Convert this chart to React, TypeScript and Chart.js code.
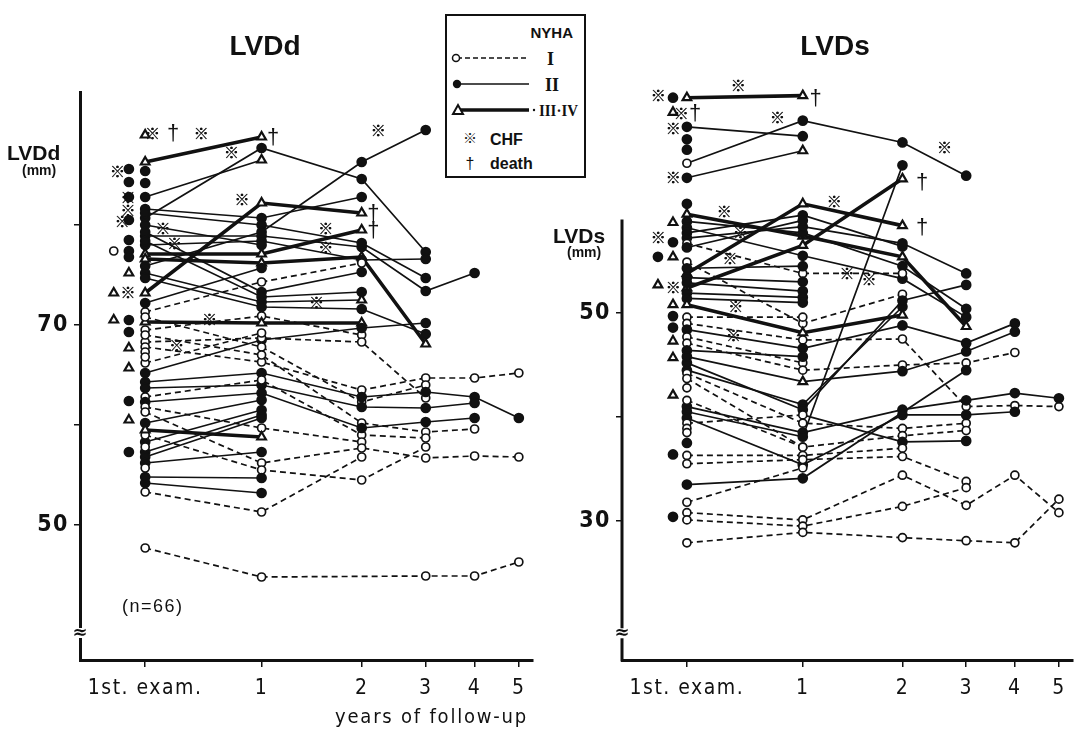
import React, { useEffect, useRef } from 'react';
import { Chart, registerables } from 'chart.js';

Chart.register(...registerables);

const INK = '#111111';
const SANS = '"Liberation Sans", Arial, sans-serif';
const NARROW = '"Liberation Sans Narrow", "DejaVu Sans Condensed", "Liberation Sans", sans-serif';

// x axis: examination time points (1st exam, 1..5 years of follow-up)
const xTickLabels = ['1st. exam.', '1', '2', '3', '4', '5'];
const xTickPositions = [0, 1, 1.86, 2.41, 2.83, 3.21];

// ---------- LVDd (mm) : one row per patient, columns = time points ----------
const lvddValues: (number | null)[][] = [
  [86.3, 88.8],
  [80.7, 87.7, 84.6, 77.3],
  [82.8, 86.5],
  [81.6, 80.7, 82.8],
  [73.2, 82.2, 81.2],
  [77.1, 77.1, 79.5],
  [76.6, 76.2, 76.8, 68.1],
  [78.9, 78.9, 77.8, 73.4, 75.2],
  [78.0, 78.4, 76.5, 76.6],
  [81.2, 80.0, 78.2, 74.7],
  [75.9, 79.3, 86.3, 89.5],
  [80.0, 78.0],
  [79.3, 73.3, 75.3],
  [78.4, 72.8, 73.3],
  [75.2, 72.3, 72.5],
  [74.7, 71.8, 71.6, 69.1],
  [71.3, 74.3, 76.2],
  [72.2, 75.7],
  [69.5, 70.9, 69.0],
  [70.3, 70.2, 70.2],
  [65.2, 68.5, 69.7, 70.2],
  [68.3, 68.7, 68.3, 62.7],
  [67.8, 66.3, 63.5, 64.7, 64.7, 65.2],
  [70.8, 67.8, 62.3, 64.0],
  [64.3, 65.2, 62.8, 63.3, 62.8, 60.7],
  [63.7, 64.0, 61.8, 61.7, 62.2],
  [69.0, 67.0, 60.2, 59.3, 59.6],
  [62.8, 64.5, 59.0, 58.7],
  [62.3, 63.2, 59.7, 60.3, 60.7],
  [61.8, 59.7, 58.3],
  [61.3, 56.2, 57.7, 56.7, 56.9, 56.8],
  [60.2, 62.5],
  [58.3, 61.5],
  [57.3, 61.0],
  [56.8, 60.7],
  [59.0, 55.5, 54.5, 57.8],
  [53.3, 51.3, 56.8],
  [56.2, 57.3],
  [54.2, 53.2],
  [54.8, 54.7],
  [47.7, 44.8, null, 44.9, 44.9, 46.3],
  [66.2, 69.2],
  [59.5, 58.8],
];
// NYHA class at each time point (1 = I, 2 = II, 3 = III/IV)
const lvddNyha: string[] = [
  '33', '2222', '23', '222', '333', '333', '3333', '22222', '2222', '2222',
  '2222', '22', '222', '222', '223', '2222', '111', '22', '111', '333',
  '2222', '1111', '111111', '1111', '222222', '22222', '11111', '1111', '22222', '111',
  '111111', '22', '22', '22', '22', '1111', '111', '22', '22', '22',
  '111111', '11', '33',
];
// patients with a single examination: [x, mm, NYHA]
const lvddSingle: [number, number, number][] = [
  [0, 89.0, 3], [0, 85.4, 2], [0, 84.2, 2], [0, 67.3, 1], [0, 66.8, 1], [0, 57.8, 1], [0, 55.7, 1],
  [-0.14, 85.6, 2], [-0.14, 84.3, 2], [-0.14, 82.8, 2], [-0.14, 80.5, 2], [-0.14, 78.5, 2],
  [-0.14, 77.4, 2], [-0.14, 76.8, 2], [-0.14, 75.2, 3], [-0.14, 70.5, 2], [-0.14, 69.3, 2],
  [-0.14, 67.7, 3], [-0.14, 65.7, 3], [-0.14, 62.4, 2], [-0.14, 60.5, 3], [-0.14, 57.3, 2],
  [-0.27, 77.4, 1], [-0.27, 73.2, 3], [-0.27, 70.5, 3],
];
const lvddChf: [number, number][] = [
  [-0.24, 85.4], [-0.15, 82.8], [-0.15, 81.5], [-0.2, 80.4], [0.06, 89.2], [0.48, 89.2],
  [0.74, 87.3], [0.83, 82.6], [0.15, 79.7], [0.25, 78.2], [2.0, 89.5], [1.55, 79.7],
  [1.55, 77.8], [1.47, 72.3], [0.55, 70.6], [0.27, 68.0], [-0.15, 73.3],
];
const lvddDeath: [number, number][] = [[0.24, 89.2], [1.1, 88.8], [1.96, 81.2], [1.96, 79.5]];

// ---------- LVDs (mm) ----------
const lvdsValues: (number | null)[][] = [
  [70.7, 70.9],
  [67.9, 67.0],
  [64.4, 68.5, 66.4, 63.2],
  [63.0, 65.6],
  [53.8, 60.5, 58.4],
  [59.5, 57.4, 55.4, 48.7],
  [58.8, 57.7, 54.5, 50.4],
  [58.2, 55.5, 53.3, 49.6],
  [57.7, 59.4, 56.4],
  [57.2, 58.3, 56.7, 53.8],
  [56.7, 53.8, 53.8],
  [56.3, 58.9],
  [54.9, 49.0, 51.8],
  [54.3, 54.5],
  [52.4, 56.5, 62.9],
  [53.4, 53.0],
  [52.9, 52.1],
  [51.9, 51.5],
  [51.4, 51.0],
  [50.8, 48.1, 49.8],
  [49.6, 49.6],
  [49.0, 47.4, 47.5, 41.0, 41.1, 41.0],
  [48.4, 46.6, 48.8, 47.1, 49.0],
  [47.7, 45.2],
  [47.1, 44.5, 45.0, 45.2, 46.2],
  [46.4, 45.8],
  [44.5, 41.2, 50.6],
  [45.2, 40.7, 51.2, 52.7],
  [41.0, 38.5, 40.7, 41.6, 42.3, 41.8],
  [40.5, 38.1, 64.2],
  [44.2, 39.4, 38.9, 39.4],
  [43.7, 37.1, 38.2, 38.7],
  [39.9, 35.4, 40.2, 40.2, 40.5],
  [33.5, 34.1, null, 44.5],
  [45.8, 43.4, 44.4, 46.3, 48.2],
  [39.4, 40.2, 37.6, 37.7],
  [36.3, 36.3, 37.0],
  [35.5, 35.9, 36.2, 33.8],
  [30.8, 30.1, 34.4, 31.5, 34.4, 30.8],
  [30.1, 29.5, 31.4, 33.2],
  [27.9, 28.9, 28.4, 28.1, 27.9, 32.1],
  [31.8, 35.1],
  [41.6, 37.1],
];
const lvdsNyha: string[] = [
  '33', '22', '1222', '23', '333', '3333', '2222', '2222', '222', '2222',
  '111', '22', '111', '22', '333', '22', '22', '22', '22', '333',
  '11', '111111', '22222', '11', '11111', '22', '222', '2222', '222222', '222',
  '1111', '1111', '22222', '2222', '23222', '1122', '111', '1111', '111111', '1111',
  '111111', '11', '11',
];
const lvdsSingle: [number, number, number][] = [
  [0, 66.7, 2], [0, 65.7, 2], [0, 60.5, 2], [0, 42.8, 1], [0, 38.9, 1], [0, 38.5, 1], [0, 37.5, 2],
  [-0.12, 70.7, 2], [-0.12, 69.3, 3], [-0.12, 58.7, 3], [-0.12, 56.8, 2], [-0.12, 55.4, 3],
  [-0.12, 50.8, 3], [-0.12, 49.7, 2], [-0.12, 48.6, 2], [-0.12, 47.3, 3], [-0.12, 45.7, 3],
  [-0.12, 42.1, 3], [-0.12, 36.4, 2], [-0.12, 30.4, 2],
  [-0.25, 55.4, 2], [-0.25, 52.7, 3],
];
const lvdsChf: [number, number][] = [
  [-0.25, 70.9], [-0.05, 69.2], [-0.12, 67.8], [-0.12, 63.0], [-0.25, 57.3], [-0.12, 52.5],
  [0.44, 71.9], [0.78, 68.8], [2.22, 65.9], [0.32, 59.8], [0.46, 57.8], [0.37, 55.3],
  [0.42, 50.6], [0.4, 47.9], [1.27, 60.7], [1.38, 53.8], [1.57, 53.2],
];
const lvdsDeath: [number, number][] = [[0.07, 69.2], [1.11, 70.7], [2.03, 62.6], [2.03, 58.3]];

type PanelCfg = {
  values: (number | null)[][];
  nyha: string[];
  single: [number, number, number][];
  chf: [number, number][];
  death: [number, number][];
  yMin: number;
  yMax: number;
  yTicks: number[];
  yLabels: number[];
  axisWidth: number;
  axisFrom: number | null;
  breakAt: number;
};

const leftPanel: PanelCfg = {
  values: lvddValues, nyha: lvddNyha, single: lvddSingle, chf: lvddChf, death: lvddDeath,
  yMin: 36.5, yMax: 93.3, yTicks: [50, 60, 70, 80], yLabels: [50, 70],
  axisWidth: 80, axisFrom: null, breakAt: 39.2,
};
const rightPanel: PanelCfg = {
  values: lvdsValues, nyha: lvdsNyha, single: lvdsSingle, chf: lvdsChf, death: lvdsDeath,
  yMin: 16.63, yMax: 71.25, yTicks: [30, 40, 50], yLabels: [30, 50],
  axisWidth: 82, axisFrom: 59, breakAt: 19.2,
};

function buildConfig(p: PanelCfg): any {
  const datasets: any[] = [];
  const markers: { x: number; y: number; c: number }[] = [];
  p.values.forEach((row, i) => {
    const pts: { x: number; y: number; c: number }[] = [];
    row.forEach((v, j) => {
      if (v !== null && v !== undefined) pts.push({ x: xTickPositions[j], y: v, c: Number(p.nyha[i][j]) });
    });
    pts.forEach((pt) => markers.push(pt));
    datasets.push({
      data: pts,
      order: 2,
      borderColor: INK,
      borderWidth: 1.7,
      pointRadius: 0,
      clip: false,
      tension: 0,
      fill: false,
      segment: {
        borderDash: (ctx: any) =>
          pts[ctx.p0DataIndex].c === 1 && pts[ctx.p1DataIndex].c === 1 ? [6, 4] : [],
        borderWidth: (ctx: any) =>
          pts[ctx.p0DataIndex].c === 3 && pts[ctx.p1DataIndex].c === 3 ? 3.6 : 1.7,
      },
    });
  });
  p.single.forEach(([x, y, c]) => markers.push({ x, y, c }));
  datasets.push({
    data: markers,
    order: 0,
    showLine: false,
    clip: false,
    pointStyle: markers.map((m) => (m.c === 3 ? 'triangle' : 'circle')),
    pointRadius: markers.map((m) => (m.c === 3 ? 5 : m.c === 2 ? 4.5 : 4)),
    pointBackgroundColor: markers.map((m) => (m.c === 2 ? INK : '#ffffff')),
    pointBorderColor: INK,
    pointBorderWidth: markers.map((m) => (m.c === 3 ? 2.2 : 1.7)),
  });

  const marksPlugin = {
    id: 'marks',
    beforeDraw(chart: any) {
      chart.ctx.letterSpacing = '1.5px';
    },
    afterDatasetsDraw(chart: any) {
      const { ctx, scales } = chart;
      const x = scales.x;
      const y = scales.y;
      ctx.save();
      ctx.letterSpacing = '0px';
      ctx.fillStyle = INK;
      ctx.textAlign = 'center';
      ctx.textBaseline = 'middle';
      ctx.font = 'bold 15px "Noto Sans CJK JP", "DejaVu Sans", sans-serif';
      p.chf.forEach(([t, v]) => {
        const px = x.getPixelForValue(t);
        const py = y.getPixelForValue(v);
        ctx.fillText('\u203B', px, py);
        ctx.fillText('\u203B', px + 0.5, py);
      });
      ctx.font = '22px "Liberation Sans", sans-serif';
      p.death.forEach(([t, v]) => ctx.fillText('\u2020', x.getPixelForValue(t), y.getPixelForValue(v) + 1));
      ctx.restore();
    },
    afterDraw(chart: any) {
      const { ctx, scales, chartArea } = chart;
      const y = scales.y;
      ctx.save();
      ctx.letterSpacing = '0px';
      if (p.axisFrom !== null) {
        ctx.beginPath();
        ctx.lineWidth = 3;
        ctx.strokeStyle = INK;
        ctx.moveTo(chartArea.left, y.getPixelForValue(p.axisFrom));
        ctx.lineTo(chartArea.left, chartArea.bottom + 1.5);
        ctx.stroke();
      }
      const by = y.getPixelForValue(p.breakAt);
      ctx.fillStyle = '#ffffff';
      ctx.fillRect(chartArea.left - 6, by - 5, 12, 10);
      ctx.fillStyle = INK;
      ctx.font = 'bold 18px "DejaVu Sans", sans-serif';
      ctx.textAlign = 'center';
      ctx.textBaseline = 'middle';
      ctx.fillText('\u2248', chartArea.left, by);
      ctx.restore();
    },
  };

  return {
    type: 'line',
    data: { datasets },
    plugins: [marksPlugin],
    options: {
      responsive: false,
      animation: false,
      devicePixelRatio: 1,
      events: [],
      layout: { padding: { top: 92, right: 5, left: 0, bottom: 0 } },
      plugins: { legend: { display: false }, tooltip: { enabled: false }, title: { display: false } },
      scales: {
        x: {
          type: 'linear',
          min: -0.56,
          max: 3.33,
          afterBuildTicks: (s: any) => {
            s.ticks = xTickPositions.map((v) => ({ value: v }));
          },
          afterFit: (s: any) => {
            s.height = 70;
          },
          ticks: {
            autoSkip: false,
            maxRotation: 0,
            color: INK,
            padding: 9,
            font: { family: NARROW, size: 21 },
            callback: (_v: any, i: number) => xTickLabels[i],
          },
          grid: { drawOnChartArea: false, drawTicks: true, tickLength: 7, color: INK, lineWidth: 1.5 },
          border: { display: true, width: 3, color: INK },
        },
        y: {
          type: 'linear',
          min: p.yMin,
          max: p.yMax,
          afterBuildTicks: (s: any) => {
            s.ticks = p.yTicks.map((v) => ({ value: v }));
          },
          afterFit: (s: any) => {
            s.width = p.axisWidth;
          },
          ticks: {
            color: INK,
            padding: 5,
            font: { family: NARROW, size: 23, weight: 'bold' },
            callback: (v: any) => (p.yLabels.includes(Number(v)) ? String(v) : ''),
          },
          grid: { drawOnChartArea: false, drawTicks: true, tickLength: 6, color: INK, lineWidth: 1.5 },
          border: { display: p.axisFrom === null, width: 3, color: INK },
        },
      },
    },
  };
}

function PanelChart({ cfg, left }: { cfg: PanelCfg; left: number }) {
  const ref = useRef<HTMLCanvasElement>(null);
  useEffect(() => {
    const chart = new Chart(ref.current as HTMLCanvasElement, buildConfig(cfg));
    return () => chart.destroy();
  }, [cfg]);
  return (
    <canvas
      ref={ref}
      width={540}
      height={730}
      style={{ position: 'absolute', left, top: 0, width: 540, height: 730 }}
    />
  );
}

function Txt({ x, y, size, bold, family, spacing, children, center }: any) {
  return (
    <div
      style={{
        position: 'absolute',
        left: center ? x - 150 : x,
        top: y,
        width: center ? 300 : undefined,
        textAlign: center ? 'center' : 'left',
        fontFamily: family || SANS,
        fontSize: size,
        fontWeight: bold ? 'bold' : 'normal',
        lineHeight: 1,
        letterSpacing: spacing || 0,
        whiteSpace: 'nowrap',
        color: INK,
      }}
    >
      {children}
    </div>
  );
}

function Legend() {
  const serif = '"Liberation Serif", serif';
  return (
    <svg
      width={141}
      height={164}
      style={{ position: 'absolute', left: 445, top: 14 }}
      viewBox="0 0 141 164"
    >
      <rect x={1} y={1} width={139} height={162} fill="#fff" stroke={INK} strokeWidth={2} />
      <text x={128} y={24} textAnchor="end" fontFamily={SANS} fontWeight="bold" fontSize={15} fill={INK}>
        NYHA
      </text>
      <line x1={12} y1={44} x2={84} y2={44} stroke={INK} strokeWidth={1.5} strokeDasharray="5 3" />
      <circle cx={11} cy={44} r={3.5} fill="#fff" stroke={INK} strokeWidth={1.5} />
      <text x={102} y={51} fontFamily={serif} fontWeight="bold" fontSize={18} fill={INK}>
        I
      </text>
      <line x1={12} y1={70} x2={84} y2={70} stroke={INK} strokeWidth={1.6} />
      <circle cx={12} cy={70} r={4.2} fill={INK} />
      <text x={100} y={77} fontFamily={serif} fontWeight="bold" fontSize={18} fill={INK}>
        II
      </text>
      <line x1={14} y1={96} x2={84} y2={96} stroke={INK} strokeWidth={3.6} />
      <polygon points="8,100 13,91 18,100" fill="#fff" stroke={INK} strokeWidth={2} />
      <circle cx={89} cy={96} r={1.2} fill={INK} />
      <text x={94} y={102} fontFamily={serif} fontWeight="bold" fontSize={17} textLength={39} lengthAdjust="spacingAndGlyphs" fill={INK}>
        III·IV
      </text>
      <text x={25} y={129} textAnchor="middle" fontFamily='"Noto Sans CJK JP", sans-serif' fontWeight="bold" fontSize={14} fill={INK}>
        ※
      </text>
      <text x={45} y={131} fontFamily={SANS} fontWeight="bold" fontSize={16} fill={INK}>
        CHF
      </text>
      <text x={25} y={155} textAnchor="middle" fontFamily={SANS} fontSize={16} fill={INK}>
        †
      </text>
      <text x={45} y={155} fontFamily={SANS} fontWeight="bold" fontSize={16} fill={INK}>
        death
      </text>
    </svg>
  );
}

export default function App() {
  return (
    <div
      style={{
        position: 'fixed',
        left: 0,
        top: 0,
        width: 1080,
        height: 730,
        background: '#ffffff',
        overflow: 'hidden',
      }}
    >
      <PanelChart cfg={leftPanel} left={0} />
      <PanelChart cfg={rightPanel} left={540} />
      <Txt x={265} y={32} size={28} bold center>LVDd</Txt>
      <Txt x={835} y={32} size={28} bold center>LVDs</Txt>
      <Txt x={7} y={142} size={21} bold>LVDd</Txt>
      <Txt x={22} y={163} size={14} bold>(mm)</Txt>
      <Txt x={553} y={225} size={21} bold>LVDs</Txt>
      <Txt x={567} y={245} size={14} bold>(mm)</Txt>
      <Txt x={122} y={597} size={18} spacing={1.5}>(n=66)</Txt>
      <Txt x={335} y={706} size={20} family={NARROW} spacing={1.8}>years of follow-up</Txt>
      <Legend />
    </div>
  );
}
